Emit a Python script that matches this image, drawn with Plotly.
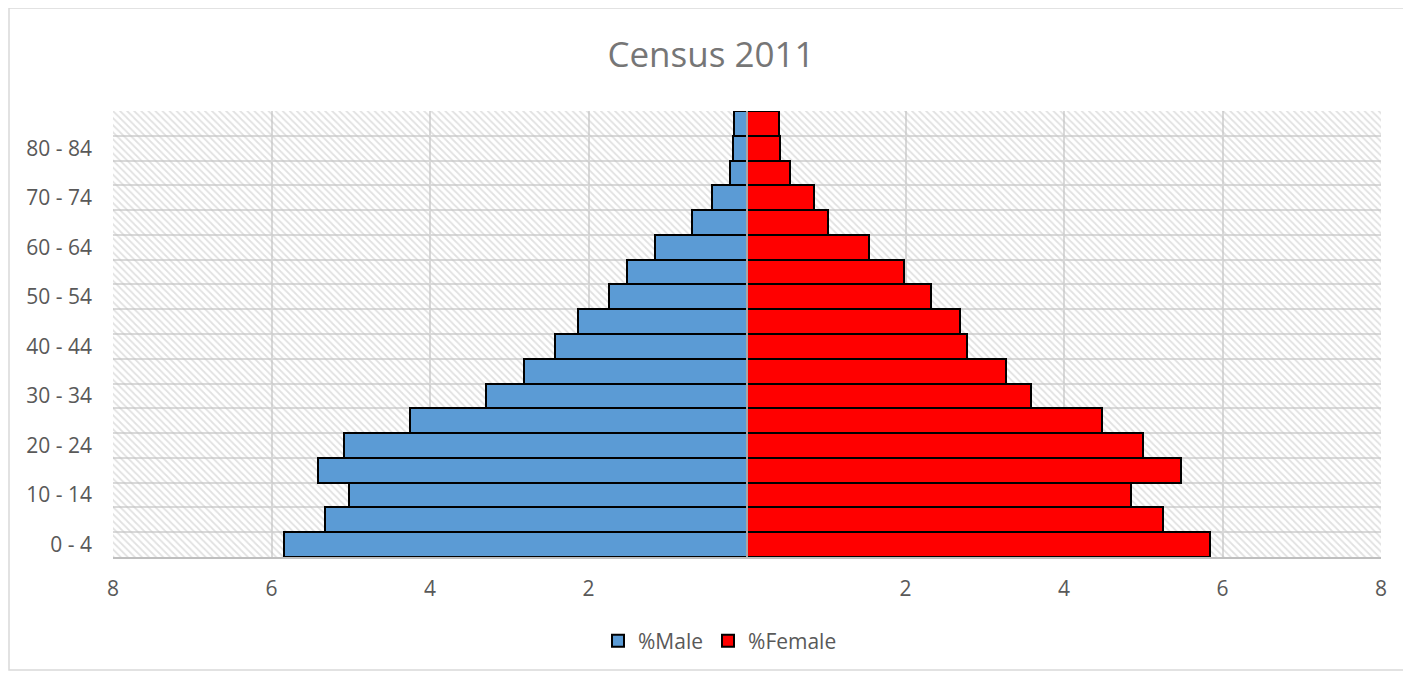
import plotly.graph_objects as go

# age groups, youngest first
age_groups = ["0 - 4", "5 - 9", "10 - 14", "15 - 19", "20 - 24", "25 - 29",
              "30 - 34", "35 - 39", "40 - 44", "45 - 49", "50 - 54", "55 - 59",
              "60 - 64", "65 - 69", "70 - 74", "75 - 79", "80 - 84", "85+"]
male_pct = [5.84, 5.33, 5.02, 5.41, 5.09, 4.25, 3.29, 2.82, 2.42, 2.13,
            1.74, 1.51, 1.16, 0.69, 0.44, 0.22, 0.18, 0.16]
female_pct = [5.84, 5.25, 4.85, 5.47, 5.00, 4.48, 3.58, 3.27, 2.77, 2.69,
              2.32, 1.98, 1.54, 1.02, 0.85, 0.54, 0.42, 0.40]
x_ticks = [-8, -6, -4, -2, 0, 2, 4, 6, 8]
x_labels = ["8", "6", "4", "2", "", "2", "4", "6", "8"]

pos = list(range(len(age_groups)))
font = "Open Sans"
grid = "#d9d9d9"

fig = go.Figure()

# hatched plot background
fig.add_bar(y=pos, x=[16] * len(pos), base=-8, orientation="h", width=1,
            marker=dict(color="rgba(0,0,0,0)", line_width=0,
                        pattern=dict(shape="\\", fgcolor="#c4c4c4", bgcolor="rgba(0,0,0,0)",
                                     size=5, solidity=0.35)),
            showlegend=False, hoverinfo="skip")

fig.add_bar(y=pos, x=[-v for v in male_pct], orientation="h", width=1, name="%Male",
            marker=dict(color="#5b9bd5", line=dict(color="black", width=2)),
            customdata=male_pct, hovertemplate="%{customdata}<extra>%Male</extra>")
fig.add_bar(y=pos, x=female_pct, orientation="h", width=1, name="%Female",
            marker=dict(color="#ff0000", line=dict(color="black", width=2)))

# centre line and outer chart border
fig.add_shape(type="line", x0=0, x1=0, y0=-0.5, y1=17.5, layer="above",
              line=dict(color="#a6a6a6", width=2))
fig.add_shape(type="rect", xref="paper", yref="paper",
              x0=(1 - 105) / 1268, x1=(1397 - 105) / 1268,
              y0=(549 - 662) / 446, y1=(549 - 0) / 446,
              line=dict(color=grid, width=1.5))

fig.update_xaxes(range=[-8, 8], tickvals=x_ticks, ticktext=x_labels,
                 showgrid=True, gridcolor=grid, gridwidth=2, zeroline=False,
                 showline=True, linecolor="#bfbfbf", linewidth=2,
                 ticklabelstandoff=12, tickfont=dict(size=21, color="#595959", family=font))
fig.update_yaxes(range=[-0.5, 17.5], tickvals=pos[::2], ticktext=age_groups[::2],
                 showgrid=False, zeroline=False, ticklabelstandoff=20,
                 tickfont=dict(size=21, color="#595959", family=font),
                 minor=dict(tickvals=[p - 0.5 for p in pos] + [17.5], showgrid=True,
                            gridcolor=grid, gridwidth=2))

fig.update_layout(width=1411, height=675, barmode="overlay", bargap=0,
                  plot_bgcolor="white", paper_bgcolor="white",
                  margin={"l": 105, "r": 38, "t": 103, "b": 126},
                  title=dict(text="Census 2011", x=(711 - 8) / 1411, xanchor="center",
                             y=1 - 47 / 675, yanchor="middle",
                             font=dict(size=35, color="#767676", family=font)),
                  legend=dict(orientation="h", xref="container", x=(720 - 8) / 1411, xanchor="center",
                              yref="container", y=1 - 633 / 675, yanchor="middle",
                              font=dict(size=21, color="#595959", family=font),
                              itemwidth=30, traceorder="normal"),
                  font=dict(family=font))

fig.write_html("out.html")
